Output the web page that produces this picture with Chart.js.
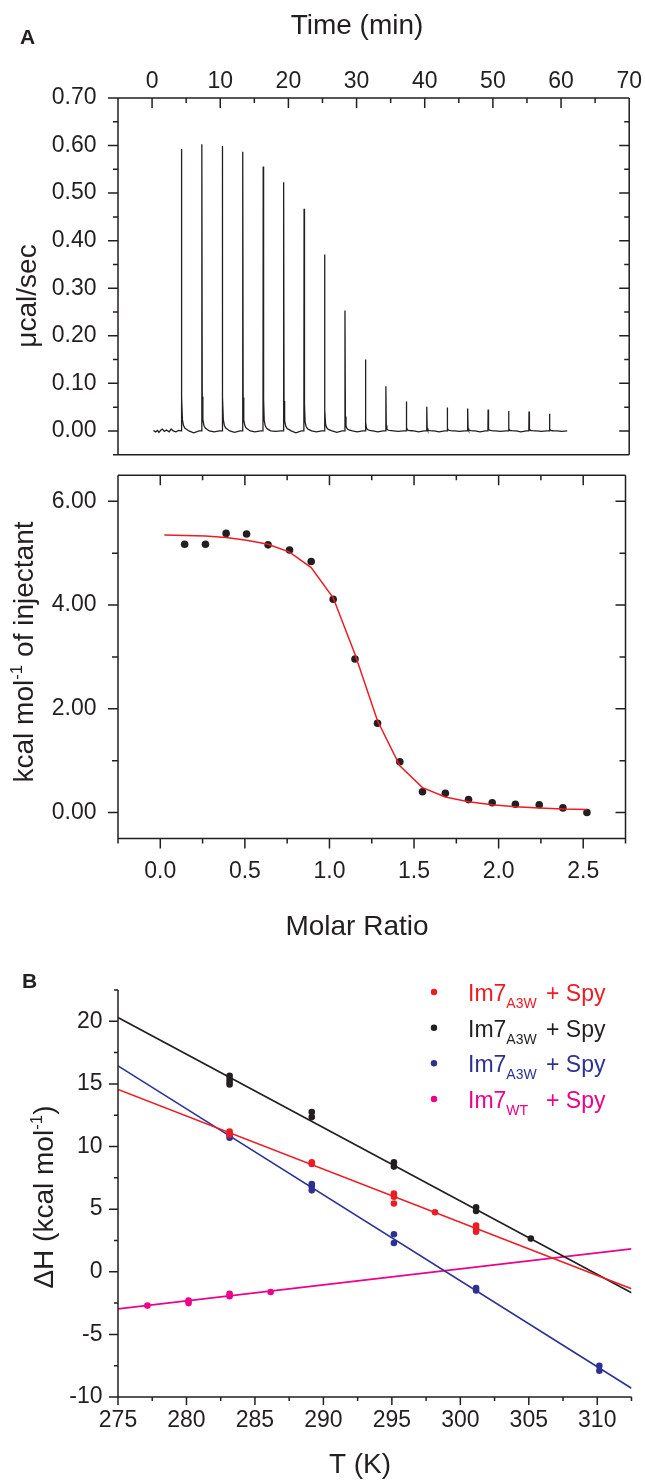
<!DOCTYPE html>
<html>
<head>
<meta charset="utf-8">
<title>ITC Im7 - Spy</title>
<script src="https://cdn.jsdelivr.net/npm/chart.js@4.4.1/dist/chart.umd.min.js"></script>
<style>
    body { margin: 0; background: #fff; }
    .Figure { position: relative; width: 645px; height: 1480px; overflow: hidden; }
    .Figure canvas { position: absolute; left: 0; }
</style>
</head>
<body>
<div class="Figure">
    <canvas id="trace" width="645" height="490" style="top: 0px"></canvas>
    <canvas id="binding" width="645" height="510" style="top: 440px"></canvas>
    <canvas id="enthalpy" width="645" height="530" style="top: 950px"></canvas>
</div>
<script>
const ink = '#231f20'
const fontFamily = "'Liberation Sans', Arial, Helvetica, sans-serif"

// panel A top: raw heat trace (min, µcal/sec)
const peakTimes = [4.3, 7.3, 10.3, 13.3, 16.3, 19.3, 22.3, 25.3, 28.3, 31.3, 34.3, 37.3, 40.3, 43.3, 46.3, 49.3, 52.3, 55.3, 58.3]
const peakHeights = [0.593, 0.603, 0.599, 0.587, 0.556, 0.523, 0.467, 0.371, 0.253, 0.150, 0.094, 0.062, 0.051, 0.049, 0.047, 0.045, 0.042, 0.041, 0.036]
const peakOffsets = [-0.03, 0, 0.06, 0.15, 0.3, 0.5, 0.8, 1.1]
const peakShape = [0, 1, 0.12, 0.04, 0.02, 0.01, 0.005, 0]
const gapDips = [-0.004, -0.002, -0.003, -0.002, -0.001, -0.004, -0.002, -0.003, -0.002, -0.002, -0.001, -0.002, -0.002, -0.001, -0.002, -0.001, -0.002, -0.001, -0.001]
const baselineTimes = [0.2, 0.5, 0.8, 1.0, 1.3, 1.5, 1.8, 2.1, 2.5, 2.8, 3.1, 3.5, 3.9]
const baselineValues = [0.001, -0.002, 0.001, -0.003, 0.002, 0.004, -0.001, 0.002, -0.002, 0.004, 0, -0.002, 0.001]

// panel A bottom: integrated heats (molar ratio, kcal/mol)
const molarRatio = [0.144, 0.267, 0.389, 0.51, 0.637, 0.764, 0.892, 1.022, 1.151, 1.284, 1.416, 1.55, 1.685, 1.822, 1.962, 2.099, 2.24, 2.38, 2.522]
const heat = [5.17, 5.17, 5.38, 5.37, 5.16, 5.06, 4.84, 4.11, 2.96, 1.72, 0.98, 0.40, 0.37, 0.25, 0.19, 0.16, 0.15, 0.09, 0.00]
const fitRatio = [0.024, 0.144, 0.267, 0.389, 0.51, 0.637, 0.764, 0.892, 1.022, 1.151, 1.284, 1.416, 1.55, 1.685, 1.822, 1.962, 2.099, 2.24, 2.38, 2.522]
const fitHeat = [5.35, 5.34, 5.33, 5.30, 5.25, 5.17, 5.02, 4.72, 4.14, 3.05, 1.77, 0.90, 0.48, 0.30, 0.21, 0.15, 0.11, 0.09, 0.07, 0.06]

// panel B: ΔH against T (K)
const redT = [283.15, 283.15, 289.15, 289.15, 295.15, 295.15, 295.15, 298.15, 301.15, 301.15, 301.15]
const redH = [11.2, 10.95, 8.75, 8.6, 6.25, 6.0, 5.45, 4.75, 3.7, 3.45, 3.2]
const blackT = [283.15, 283.15, 283.15, 283.15, 289.15, 289.15, 295.15, 295.15, 301.15, 301.15, 305.15]
const blackH = [15.65, 15.4, 15.15, 14.95, 12.75, 12.35, 8.75, 8.4, 5.15, 4.85, 2.65]
const blueT = [283.15, 283.15, 289.15, 289.15, 289.15, 295.15, 295.15, 301.15, 301.15, 310.15, 310.15]
const blueH = [10.95, 10.7, 7.0, 6.8, 6.5, 3.0, 2.3, -1.3, -1.5, -7.5, -7.9]
const pinkT = [277.15, 280.15, 280.15, 283.15, 283.15, 286.15]
const pinkH = [-2.7, -2.3, -2.5, -1.75, -1.95, -1.62]
const fitT = [275, 312.5]
const redFit = [14.56, -1.35]
const blackFit = [20.3, -1.67]
const blueFit = [16.44, -9.3]
const pinkFit = [-2.96, 1.83]
const seriesColors = ['#ed1c24', ink, '#2e3192', '#ec008c']
const seriesSubs = ['A3W', 'A3W', 'A3W', 'WT']

Chart.defaults.font.family = fontFamily
Chart.defaults.color = ink

function pairs(xs, ys) {
    return xs.map((x, i) => ({ x: x, y: ys[i] }))
}

function tracePoints() {
    const points = pairs(baselineTimes, baselineValues)
    for (let i = 0; i < peakTimes.length; i++) {
        for (let j = 0; j < peakOffsets.length; j++) {
            points.push({ x: peakTimes[i] + peakOffsets[j], y: peakHeights[i] * peakShape[j] })
        }
        points.push({ x: peakTimes[i] + 1.8, y: gapDips[i] })
        points.push({ x: peakTimes[i] + 2.6, y: 0 })
    }
    return points
}

function isMultiple(value, step) {
    return Math.abs(value / step - Math.round(value / step)) < 1e-6
}

function every(step, digits) {
    return (value) => isMultiple(value, step) ? value.toFixed(digits) : ''
}

function axis(position, min, max, step, labelStep, digits, padding, size) {
    return {
        type: 'linear',
        position: position,
        min: min,
        max: max,
        grid: { display: false, drawTicks: false },
        border: { display: false },
        ticks: {
            stepSize: step,
            autoSkip: false,
            maxRotation: 0,
            padding: padding,
            color: ink,
            font: { size: 23 },
            callback: every(labelStep, digits)
        },
        afterFit: (scale) => {
            if (scale.isHorizontal()) scale.height = size
            else scale.width = size
        }
    }
}

function frame(config) {
    return {
        id: 'frame',
        afterDatasetsDraw(chart) {
            const ctx = chart.ctx
            const a = chart.chartArea
            ctx.save()
            ctx.strokeStyle = ink
            ctx.lineWidth = 1.5
            ctx.beginPath()
            config.edges.forEach((edge) => {
                if (edge == 'left') { ctx.moveTo(a.left, a.top); ctx.lineTo(a.left, a.bottom) }
                if (edge == 'right') { ctx.moveTo(a.right, a.top); ctx.lineTo(a.right, a.bottom) }
                if (edge == 'top') { ctx.moveTo(a.left, a.top); ctx.lineTo(a.right, a.top) }
                if (edge == 'bottom') { ctx.moveTo(a.left, a.bottom); ctx.lineTo(a.right, a.bottom) }
            })
            config.marks.forEach((mark) => {
                const scale = chart.scales[mark.scale]
                const outSign = (mark.edge == 'left' || mark.edge == 'top') ? -1 : 1
                const sign = mark.inward ? -outSign : outSign
                scale.ticks.forEach((tick) => {
                    const v = tick.value
                    if (!isMultiple(v, mark.minor)) return
                    const len = (isMultiple(v, mark.major) ? mark.long : mark.short) * sign
                    const p = scale.getPixelForValue(v)
                    if (mark.edge == 'left' || mark.edge == 'right') {
                        const x = mark.edge == 'left' ? a.left : a.right
                        ctx.moveTo(x, p); ctx.lineTo(x + len, p)
                    } else {
                        const y = mark.edge == 'top' ? a.top : a.bottom
                        ctx.moveTo(p, y); ctx.lineTo(p, y + len)
                    }
                })
            })
            ctx.stroke()
            ctx.restore()
        }
    }
}

// text with sub/superscripts: panel letters and axis titles
function drawParts(ctx, parts, size, bold, align) {
    const measured = parts.map((part) => {
        const s = part.sub || part.sup ? Math.round(size * 0.6) : size
        ctx.font = (bold ? 'bold ' : '') + s + 'px ' + fontFamily
        return { t: part.t, sub: part.sub, sup: part.sup, s: s, w: ctx.measureText(part.t).width }
    })
    const total = measured.reduce((sum, part) => sum + part.w, 0)
    let x = align == 'left' ? 0 : -total / 2
    measured.forEach((part) => {
        ctx.font = (bold ? 'bold ' : '') + part.s + 'px ' + fontFamily
        const dy = part.sub ? size * 0.3 : part.sup ? -size * 0.38 : 0
        ctx.fillText(part.t, x, dy)
        x += part.w
    })
}

function texts(items) {
    return {
        id: 'texts',
        afterDraw(chart) {
            const ctx = chart.ctx
            items.forEach((item) => {
                ctx.save()
                ctx.translate(item.x, item.y)
                if (item.rotate) ctx.rotate(-Math.PI / 2)
                ctx.fillStyle = item.color || ink
                ctx.textBaseline = 'alphabetic'
                ctx.textAlign = 'left'
                drawParts(ctx, item.parts, item.size, item.bold, item.align)
                ctx.restore()
            })
        }
    }
}

const legendB = {
    id: 'legendB',
    afterDraw(chart) {
        const ctx = chart.ctx
        const rows = [42, 77.7, 113.3, 149]
        ctx.save()
        ctx.textBaseline = 'alphabetic'
        ctx.textAlign = 'left'
        for (let i = 0; i < rows.length; i++) {
            ctx.fillStyle = seriesColors[i]
            ctx.beginPath()
            ctx.arc(434, rows[i], 3.2, 0, Math.PI * 2)
            ctx.fill()
            ctx.save()
            ctx.translate(468, rows[i] + 9)
            drawParts(ctx, [{ t: 'Im7' }, { t: seriesSubs[i], sub: true }], 23, false, 'left')
            ctx.restore()
            ctx.font = '23px ' + fontFamily
            ctx.fillText('+ Spy', 546, rows[i] + 9)
        }
        ctx.restore()
    }
}

const common = {
    responsive: false,
    animation: false,
    events: [],
    plugins: { legend: { display: false }, tooltip: { enabled: false } }
}

new Chart(document.getElementById('trace'), {
    type: 'scatter',
    data: {
        datasets: [{
            data: tracePoints(),
            showLine: true,
            borderColor: ink,
            borderWidth: 1.3,
            pointRadius: 0,
            tension: 0
        }]
    },
    options: Object.assign({}, common, {
        layout: { padding: { top: 0, left: 0, right: 15, bottom: 22 } },
        scales: {
            x: axis('top', -5, 70, 5, 10, 0, 3, 98),
            y: axis('left', -0.05, 0.70, 0.05, 0.1, 2, 21.5, 118)
        }
    }),
    plugins: [
        frame({
            edges: ['left', 'right', 'top', 'bottom'],
            marks: [
                { scale: 'x', edge: 'top', inward: true, major: 10, minor: 5, long: 10, short: 5 },
                { scale: 'y', edge: 'left', inward: false, major: 0.1, minor: 0.05, long: 10, short: 5 },
                { scale: 'y', edge: 'right', inward: true, major: 0.1, minor: 0.05, long: 10, short: 5 }
            ]
        }),
        texts([
            { x: 20, y: 44, size: 21, bold: true, align: 'left', parts: [{ t: 'A' }] },
            { x: 357, y: 34, size: 28, parts: [{ t: 'Time (min)' }] },
            { x: 36, y: 296, size: 28, rotate: true, parts: [{ t: 'μcal/sec' }] }
        ])
    ]
})

new Chart(document.getElementById('binding'), {
    type: 'scatter',
    data: {
        datasets: [{
            data: pairs(fitRatio, fitHeat),
            showLine: true,
            borderColor: '#ed1c24',
            borderWidth: 1.5,
            pointRadius: 0,
            tension: 0
        }, {
            data: pairs(molarRatio, heat),
            pointRadius: 3.8,
            pointBorderWidth: 0,
            pointBackgroundColor: ink
        }]
    },
    options: Object.assign({}, common, {
        layout: { padding: { top: 28, left: 0, right: 15, bottom: 0 } },
        scales: {
            x: axis('bottom', -0.25, 2.75, 0.25, 0.5, 1, 19.5, 111.5),
            y: axis('left', -0.5, 6.5, 0.5, 2, 2, 21.5, 118)
        }
    }),
    plugins: [
        frame({
            edges: ['left', 'right', 'top', 'bottom'],
            marks: [
                { scale: 'x', edge: 'top', inward: true, major: 0.5, minor: 0.25, long: 10, short: 5 },
                { scale: 'x', edge: 'bottom', inward: false, major: 0.5, minor: 0.25, long: 10, short: 5 },
                { scale: 'y', edge: 'left', inward: false, major: 2, minor: 1, long: 10, short: 6 },
                { scale: 'y', edge: 'right', inward: true, major: 2, minor: 1, long: 10, short: 6 }
            ]
        }),
        texts([
            { x: 357, y: 495, size: 28, parts: [{ t: 'Molar Ratio' }] },
            { x: 33, y: 212, size: 28, rotate: true, parts: [{ t: 'kcal mol' }, { t: '-1', sup: true }, { t: ' of injectant' }] }
        ])
    ]
})

const fits = [redFit, blackFit, blueFit, pinkFit]
const temps = [redT, blackT, blueT, pinkT]
const heats = [redH, blackH, blueH, pinkH]
const enthalpySets = []
for (let i = 0; i < 4; i++) {
    enthalpySets.push({
        data: pairs(fitT, fits[i]),
        showLine: true,
        borderColor: seriesColors[i],
        borderWidth: 1.6,
        pointRadius: 0,
        tension: 0
    })
    enthalpySets.push({
        data: pairs(temps[i], heats[i]),
        pointRadius: 3.3,
        pointBorderWidth: 0,
        pointBackgroundColor: seriesColors[i]
    })
}

new Chart(document.getElementById('enthalpy'), {
    type: 'scatter',
    data: { datasets: enthalpySets },
    options: Object.assign({}, common, {
        layout: { padding: { top: 40, left: 0, right: 13.5, bottom: 0 } },
        scales: {
            x: axis('bottom', 275, 312.5, 2.5, 5, 0, 9.5, 83),
            y: axis('left', -10, 22.5, 2.5, 5, 0, 15.5, 118)
        }
    }),
    plugins: [
        frame({
            edges: ['left', 'bottom'],
            marks: [
                { scale: 'x', edge: 'bottom', inward: false, major: 5, minor: 2.5, long: 8, short: 4 },
                { scale: 'y', edge: 'left', inward: false, major: 5, minor: 2.5, long: 9, short: 4 }
            ]
        }),
        texts([
            { x: 22, y: 38, size: 21, bold: true, align: 'left', parts: [{ t: 'B' }] },
            { x: 360, y: 523, size: 28, parts: [{ t: 'T (K)' }] },
            { x: 53, y: 247, size: 28, rotate: true, parts: [{ t: 'ΔH (kcal mol' }, { t: '-1', sup: true }, { t: ')' }] }
        ]),
        legendB
    ]
})
</script>
</body>
</html>
